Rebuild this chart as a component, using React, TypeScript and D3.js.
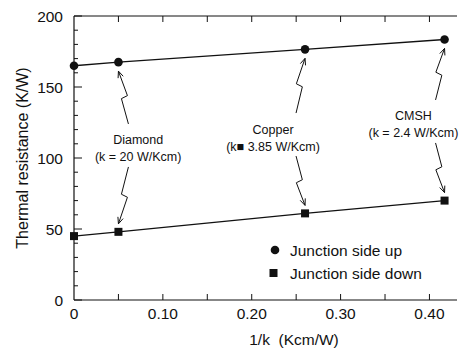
import React from "react";
import * as d3 from "d3";

const kInv = [0, 0.05, 0.26, 0.417];
const upValues = [165, 167.5, 176.5, 183.5];
const downValues = [45, 48, 61, 70];

const materialNames = ["Diamond", "Copper", "CMSH"];
const materialK = ["(k = 20 W/Kcm)", "(k\u25A0 3.85 W/Kcm)", "(k = 2.4 W/Kcm)"];
const materialIndex = [1, 2, 3];
const labelCenterX = [0.0722, 0.224, 0.382];
const labelLine1Y = [112.7, 120.4, 129.6];
const arrowDrift = [10, -9, -9];

const yTicks = [0, 50, 100, 150, 200];
const yMinorTicks = d3.range(0, 201, 10);
const xTicks = [0, 0.1, 0.2, 0.3, 0.4];
const xTickLabels = ["0", "0.10", "0.20", "0.30", "0.40"];
const xMinorTicks = [0.05, 0.1, 0.15, 0.2, 0.25, 0.3, 0.35, 0.4];

const legendLabels = ["Junction side up", "Junction side down"];

const FONT = "'Liberation Sans', Arial, Helvetica, sans-serif";
const INK = "#111";

export default function App() {
  const W = 467, H = 350;
  const x = d3.scaleLinear().domain([0, 0.431]).range([74, 457]);
  const y = d3.scaleLinear().domain([0, 200]).range([300, 16]);
  const line = d3
    .line<[number, number]>()
    .x((d) => x(d[0]))
    .y((d) => y(d[1]));
  const upPts: [number, number][] = kInv.map((k, i) => [k, upValues[i]]);
  const downPts: [number, number][] = kInv.map((k, i) => [k, downValues[i]]);

  const lightning = (sx: number, sy: number, ex: number, ey: number) => {
    const dx = ex - sx, dy = ey - sy;
    const p1x = sx + 0.7 * dx, p1y = sy + 0.48 * dy;
    const sgnx = dx >= 0 ? 1 : -1;
    const sgny = dy >= 0 ? 1 : -1;
    const p2x = p1x - sgnx * 6, p2y = p1y + sgny * 3;
    // arrowhead
    const ang = Math.atan2(ey - p2y, ex - p2x);
    const hl = 7, ha = 0.4;
    const h1x = ex - hl * Math.cos(ang - ha), h1y = ey - hl * Math.sin(ang - ha);
    const h2x = ex - hl * Math.cos(ang + ha), h2y = ey - hl * Math.sin(ang + ha);
    return `M${sx},${sy}L${p1x},${p1y}L${p2x},${p2y}L${ex},${ey}M${h1x},${h1y}L${ex},${ey}L${h2x},${h2y}`;
  };

  return (
    <svg width={W} height={H} style={{ display: "block", position: "absolute", left: 0, top: 0 }}>
      <rect width={W} height={H} fill="#fff" />
      {/* frame */}
      <line x1={x(0)} x2={x(0)} y1={y(200)} y2={y(0)} stroke={INK} strokeWidth={1.2} />
      <line x1={x(0)} x2={457} y1={y(0)} y2={y(0)} stroke={INK} strokeWidth={1.2} />
      <line x1={x(0)} x2={457} y1={y(200)} y2={y(200)} stroke={INK} strokeWidth={1} />
      {/* y ticks */}
      {yMinorTicks.map((t) => (
        <line key={"ym" + t} x1={x(0)} x2={x(0) + (t % 50 === 0 ? 8 : 4)} y1={y(t)} y2={y(t)} stroke={INK} strokeWidth={1} />
      ))}
      {/* x ticks bottom and top */}
      {xMinorTicks.map((t) => (
        <g key={"xm" + t}>
          <line x1={x(t)} x2={x(t)} y1={y(0)} y2={y(0) - 6} stroke={INK} strokeWidth={1} />
          <line x1={x(t)} x2={x(t)} y1={y(200)} y2={y(200) + 6} stroke={INK} strokeWidth={1} />
        </g>
      ))}
      {/* tick labels */}
      {yTicks.map((t) => (
        <text key={"yl" + t} x={63} y={y(t) + 5.5} textAnchor="end" fontFamily={FONT} fontSize={15.5} fill={INK}>
          {t}
        </text>
      ))}
      {xTicks.map((t, i) => (
        <text key={"xl" + t} x={x(t)} y={319} textAnchor="middle" fontFamily={FONT} fontSize={15.5} fill={INK}>
          {xTickLabels[i]}
        </text>
      ))}
      <text x={294} y={345} textAnchor="middle" fontFamily={FONT} fontSize={15.5} fill={INK} xmlSpace="preserve">
        {"1/k  (Kcm/W)"}
      </text>
      <text
        transform={`translate(28,${(y(0) + y(200)) / 2}) rotate(-90)`}
        textAnchor="middle"
        fontFamily={FONT}
        fontSize={16}
        fill={INK}
      >
        Thermal resistance (K/W)
      </text>
      {/* series lines */}
      <path d={line(upPts) || ""} fill="none" stroke={INK} strokeWidth={1.4} />
      <path d={line(downPts) || ""} fill="none" stroke={INK} strokeWidth={1.4} />
      {upPts.map((p, i) => (
        <circle key={"c" + i} cx={x(p[0])} cy={y(p[1])} r={4.3} fill={INK} />
      ))}
      {downPts.map((p, i) => (
        <rect key={"s" + i} x={x(p[0]) - 4} y={y(p[1]) - 4} width={8} height={8} fill={INK} />
      ))}
      {/* annotations */}
      {materialNames.map((name, i) => {
        const cx = x(labelCenterX[i]);
        const l1 = y(labelLine1Y[i]);
        const l2 = l1 + 17;
        const idx = materialIndex[i];
        const px = x(kInv[idx]);
        const upY = y(upValues[idx]);
        const dnY = y(downValues[idx]);
        const sx = px + arrowDrift[i];
        return (
          <g key={"a" + i}>
            <text x={cx} y={l1 + 4.5} textAnchor="middle" fontFamily={FONT} fontSize={12.5} fill={INK}>
              {name}
            </text>
            <text x={cx} y={l2 + 4.5} textAnchor="middle" fontFamily={FONT} fontSize={12.5} fill={INK}>
              {materialK[i]}
            </text>
            <path d={lightning(sx, l1 - 16, px, upY + 9)} fill="none" stroke={INK} strokeWidth={1} />
            <path d={lightning(sx, l2 + 10, px, dnY - 8)} fill="none" stroke={INK} strokeWidth={1} />
          </g>
        );
      })}
      {/* legend */}
      <circle cx={275} cy={250} r={4.3} fill={INK} />
      <text x={290} y={255.5} fontFamily={FONT} fontSize={15.5} fill={INK}>
        {legendLabels[0]}
      </text>
      <rect x={269.5} y={269} width={8} height={8} fill={INK} />
      <text x={290} y={278.5} fontFamily={FONT} fontSize={15.5} fill={INK}>
        {legendLabels[1]}
      </text>
    </svg>
  );
}
